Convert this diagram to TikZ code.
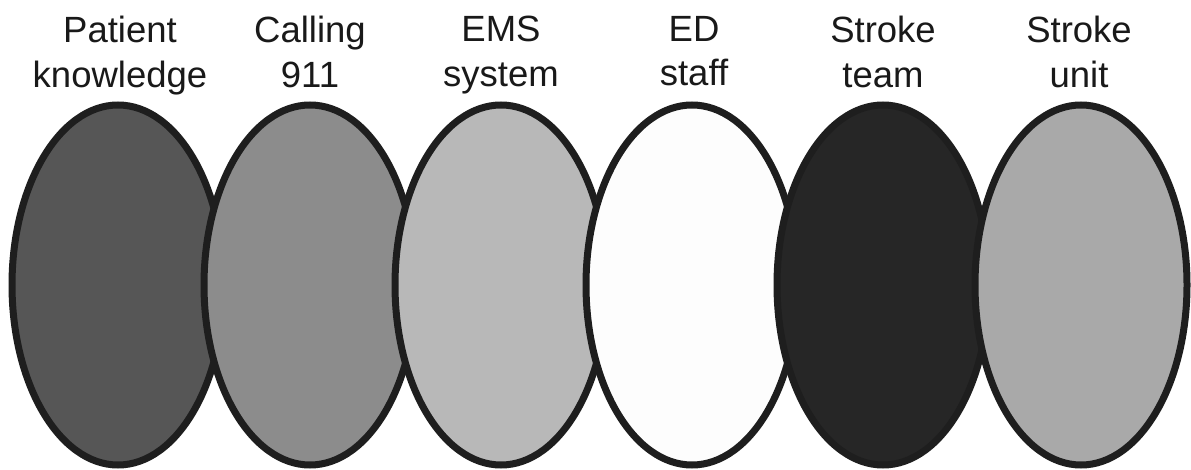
\documentclass[tikz,border=0pt]{standalone}
\usepackage{fontspec}
\setmainfont{Liberation Sans}
\usetikzlibrary{shapes.geometric}
\definecolor{edge}{HTML}{1E1E1E}
\definecolor{c1}{HTML}{565656}
\definecolor{c2}{HTML}{8C8C8C}
\definecolor{c3}{HTML}{B8B8B8}
\definecolor{c4}{HTML}{FDFDFD}
\definecolor{c5}{HTML}{262626}
\definecolor{c6}{HTML}{A9A9A9}
\tikzset{
  oval/.style={ellipse, draw=edge, line width=7pt, minimum width=212pt, minimum height=360pt, inner sep=0pt, outer sep=0pt},
  lbl/.style={anchor=north, inner sep=0pt, align=center, font=\fontsize{36.5}{44.5}\selectfont, text=black!90}
}
\begin{document}
\begin{tikzpicture}[x=1pt,y=-1pt]
\useasboundingbox (0,0) rectangle (1191,470);
\fill[white] (0,0) rectangle (1191,470);
\node[oval, fill=c1] (e1) at (118,285) {};
\node[oval, fill=c2] (e2) at (310,285) {};
\node[oval, fill=c3] (e3) at (501,285) {};
\node[oval, fill=c4] (e4) at (692,285) {};
\node[oval, fill=c5] (e5) at (883,285) {};
\node[oval, fill=c6] (e6) at (1081,285) {};
\node[lbl] (t1) at (120,16) {Patient\\knowledge};
\node[lbl] (t2) at (310,16) {Calling\\911};
\node[lbl] (t3) at (501,16) {EMS\\system};
\node[lbl] (t4) at (694,16) {ED\\staff};
\node[lbl] (t5) at (883,16) {Stroke\\team};
\node[lbl] (t6) at (1079,16) {Stroke\\unit};
\end{tikzpicture}
\end{document}
